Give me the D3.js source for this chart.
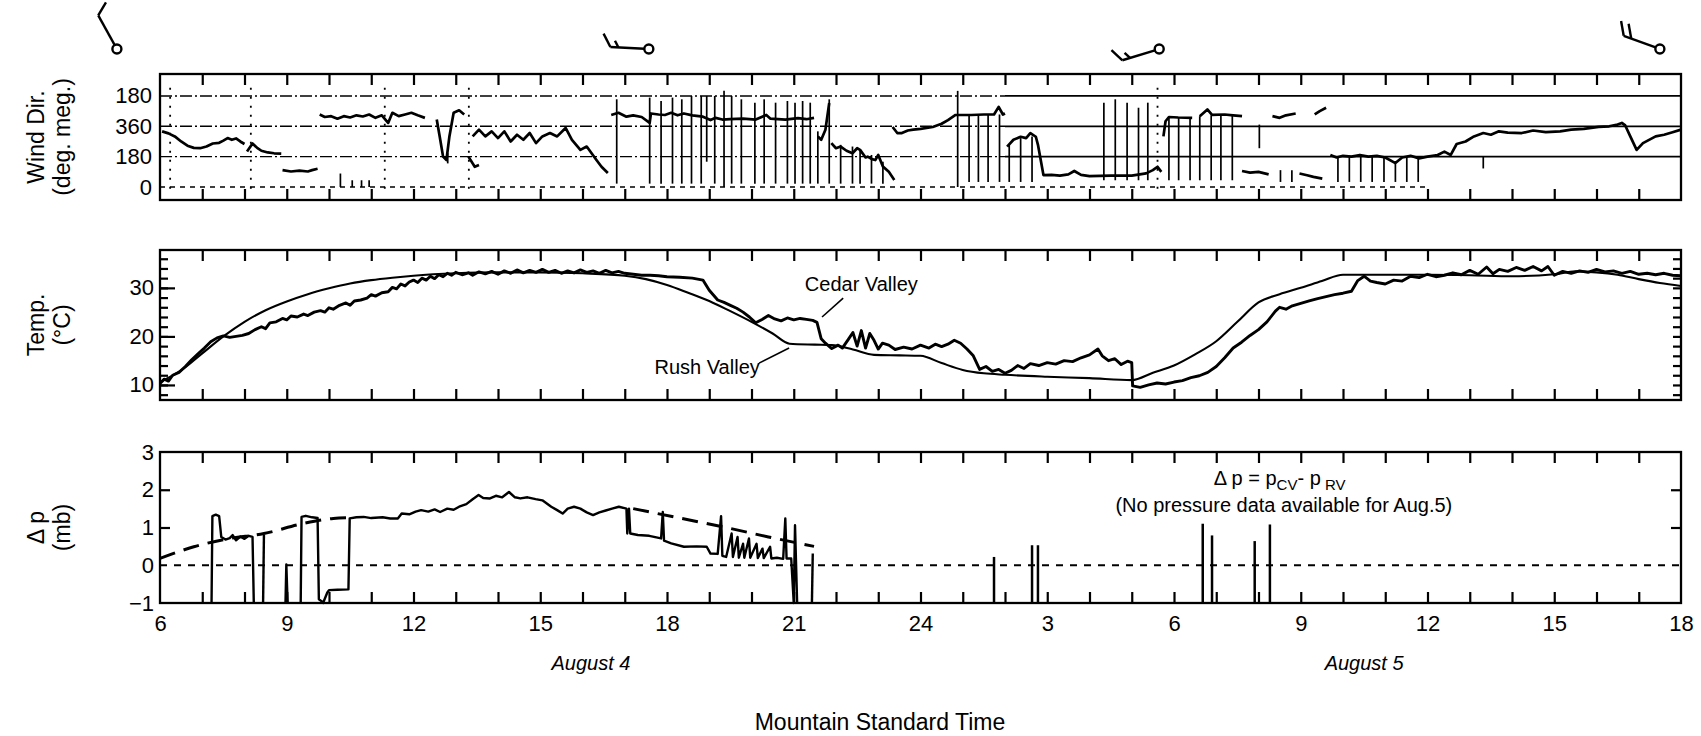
<!DOCTYPE html>
<html>
<head>
<meta charset="utf-8">
<script src="https://cdn.jsdelivr.net/npm/d3@7"></script>
<style>
  body { margin: 0; background: #fff; }
  svg { display: block; }
  .frame { fill: none; stroke: #000; stroke-width: 2.3; }
  .hticks line, .yticks line { stroke: #000; stroke-width: 2.2; }
  .ylab text { font-family: "Liberation Sans", Arial, sans-serif; font-size: 22px; fill: #000; }
  .xlab text { font-family: "Liberation Sans Narrow", "Arial Narrow", sans-serif; font-size: 22px; fill: #000; }
  .title { font-family: "Liberation Sans", Arial, sans-serif; font-size: 23px; fill: #000; }
  .note { font-family: "Liberation Sans Narrow", "Arial Narrow", sans-serif; font-size: 20px; fill: #000; }
</style>
</head>
<body>
<svg id="chart" width="1701" height="736"></svg>
<script>
// ---- data ----
// hours counted from 0h Aug 4 (so 30 = 6h Aug 5)
var labelHours = [6, 9, 12, 15, 18, 21, 24, 27, 30, 33, 36, 39, 42];
var minorHours = d3.range(7, 42);

// wind direction, scale is unwrapped: 0..540 shown as 0,180,360,180
var windGrid = [0, 180, 360, 540];
var windGridLabels = ["0", "180", "360", "180"];

var windTrace = [
  [[6.05,330],[6.2,318],[6.35,300],[6.5,270],[6.65,245],[6.8,232],[6.95,230],[7.1,240],[7.25,258],[7.4,262],[7.5,275],[7.6,290],[7.7,280],[7.8,288],[7.9,270],[8.0,255]],
  [[8.06,210],[8.19,258],[8.3,232],[8.4,215],[8.55,205],[8.7,200],[8.87,198]],
  [[8.9,100],[9.1,92],[9.3,97],[9.5,92],[9.6,100],[9.73,108]],
  [[9.78,430],[9.9,415],[10.05,420],[10.2,405],[10.35,420],[10.5,412],[10.65,425],[10.8,418],[10.95,430],[11.1,410],[11.25,425],[11.4,380],[11.5,440],[11.65,420],[11.8,430],[11.95,440],[12.1,425],[12.27,410]],
  [[12.55,400],[12.62,300],[12.7,180],[12.78,160],[12.85,300],[12.95,440],[13.08,455],[13.2,430]],
  [[13.3,180],[13.45,120],[13.55,130]],
  [[13.4,300],[13.55,340],[13.7,300],[13.85,330],[14.0,290],[14.15,330],[14.3,270],[14.45,310],[14.6,280],[14.75,320],[14.9,260],[15.05,300],[15.23,320],[15.4,300],[15.6,350],[15.75,280],[15.95,220],[16.1,240],[16.33,160],[16.45,120],[16.6,83]],
  [[16.68,427],[16.85,440],[17.04,417],[17.2,425],[17.4,415],[17.59,380],[17.62,436],[17.8,430],[17.95,427],[18.1,440],[18.25,425],[18.4,436],[18.6,425],[18.85,417],[19.03,397],[19.15,410],[19.31,400],[19.49,403],[19.8,405],[20.1,400],[20.35,427],[20.45,405],[20.8,400],[21.1,408],[21.3,402],[21.48,410]],
  [[21.57,300],[21.65,280],[21.75,340],[21.84,498]],
  [[21.89,260],[22.0,230],[22.11,240],[22.25,215],[22.39,200],[22.5,230],[22.57,220],[22.7,175],[22.75,180],[22.85,165],[22.93,160],[23.0,190],[23.11,122],[23.25,90],[23.38,42]],
  [[23.34,356],[23.45,320],[23.56,320],[23.7,335],[23.83,340],[24.0,345],[24.29,356],[24.5,375],[24.65,397],[24.83,427],[25.2,427],[25.5,430],[25.74,430],[25.85,475],[25.95,430],[26.0,436]],
  [[26.05,239],[26.2,280],[26.37,298],[26.5,290],[26.6,320],[26.73,298],[26.78,250],[26.91,71],[27.1,72],[27.3,68],[27.5,75],[27.64,95],[27.8,72],[28.0,65],[28.5,68],[29.0,68],[29.34,81],[29.5,100],[29.61,120],[29.7,90]],
  [[29.75,300],[29.8,390],[29.88,415],[30.1,412],[30.43,410]],
  [[30.61,420],[30.79,460],[30.9,428],[31.2,430],[31.4,425],[31.61,420]],
  [[31.61,95],[31.8,85],[32.0,90],[32.24,75]],
  [[32.33,420],[32.5,410],[32.65,425],[32.88,436]],
  [[32.97,80],[33.15,70],[33.3,60],[33.51,50]],
  [[33.33,430],[33.45,450],[33.6,470]],
  [[33.7,190],[33.85,175],[34.0,185],[34.2,180],[34.4,190],[34.6,180],[34.8,185],[35.0,175],[35.24,142],[35.4,175],[35.6,185],[35.8,170],[36.0,180],[36.24,190],[36.4,210],[36.55,190],[36.69,255],[36.9,270],[37.1,300],[37.32,320],[37.5,310],[37.69,330],[37.9,322],[38.23,320],[38.5,335],[38.8,325],[39.14,330],[39.4,340],[39.7,345],[40.05,356],[40.3,360],[40.5,370],[40.6,380],[40.68,365],[40.8,300],[40.95,220],[41.1,260],[41.4,300],[41.6,310],[41.8,325],[42.0,340]]
];

// vertical streaks of the recorder: [hour, low deg, high deg]
var windSpikes = [
  [10.27,0,80],[10.55,0,40],[10.77,0,40],[10.95,0,40],[12.81,140,200],
  [16.81,20,520],[17.59,20,530],[17.86,20,510],[18.13,20,530],[18.35,20,520],[18.58,20,540],[18.81,20,540],[18.94,150,540],
  [19.13,20,540],[19.35,0,570],[19.53,20,540],[19.76,20,520],[20.08,20,500],[20.3,20,520],[20.57,20,500],[20.85,20,510],
  [21.03,20,500],[21.21,20,510],[21.39,20,500],[21.57,20,330],[21.84,20,520],[22.11,20,250],[22.39,20,240],[22.57,20,220],
  [22.84,20,190],[23.11,20,150],[24.88,0,570],[25.15,30,430],[25.37,30,430],[25.6,30,430],[25.87,30,430],[26.1,30,250],
  [26.37,30,290],[26.64,30,300],[28.34,40,500],[28.61,40,520],[28.89,40,500],[29.16,40,470],[29.38,40,500],[29.88,40,410],
  [30.11,40,410],[30.38,40,410],[30.61,40,420],[30.88,40,425],[31.11,40,430],[31.38,40,425],[32.02,230,370],[32.52,30,100],
  [32.79,30,100],[33.88,30,180],[34.15,30,180],[34.42,30,180],[34.69,30,180],[34.97,30,180],[35.24,30,140],[35.51,30,180],
  [35.78,30,170],[37.32,110,180]
];
var windDotted = [6.24, 8.15, 11.32, 13.31, 29.61];

// wind barbs above the top panel: hour, direction (deg), speed (kt)
var barbs = [
  {hour: 4.98, dir: 331, speed: 10},
  {hour: 17.57, dir: 273, speed: 15},
  {hour: 29.65, dir: 253, speed: 15},
  {hour: 41.5, dir: 290, speed: 20}
];

// temperature (deg C)
var tempTicks = [10, 20, 30];
var tempMinor = d3.range(8, 38, 2);

var cedarValley = [
  [6.0,10.3],[6.1,11.2],[6.2,10.8],[6.3,12.0],[6.45,12.6],[6.6,13.8],[6.75,15.2],[6.9,16.4],[7.05,17.6],[7.2,18.9],
  [7.35,19.7],[7.5,20.1],[7.65,19.8],[7.8,20.0],[7.95,20.2],[8.1,20.6],[8.25,21.4],[8.4,22.0],[8.5,21.6],[8.6,22.8],
  [8.75,23.0],[8.9,23.7],[9.0,23.4],[9.1,24.2],[9.25,24.0],[9.4,24.6],[9.5,24.3],[9.65,25.0],[9.8,25.3],[9.9,25.0],
  [10.0,25.9],[10.1,25.6],[10.25,26.4],[10.4,26.9],[10.5,26.4],[10.6,27.3],[10.75,27.5],[10.9,27.9],[11.0,28.6],[11.1,28.3],
  [11.25,29.0],[11.4,29.2],[11.5,30.1],[11.6,29.8],[11.7,30.8],[11.8,30.4],[11.9,31.2],[12.0,31.6],[12.1,31.1],[12.2,32.0],
  [12.3,31.6],[12.4,32.4],[12.5,31.9],[12.6,32.7],[12.7,32.3],[12.8,33.0],[12.9,32.6],[13.0,33.2],[13.15,32.7],[13.3,33.1],
  [13.4,32.6],[13.55,33.3],[13.7,32.9],[13.85,33.4],[14.0,32.8],[14.15,33.5],[14.3,33.0],[14.45,33.7],[14.6,33.1],[14.75,33.6],
  [14.9,33.2],[15.05,33.8],[15.2,33.2],[15.35,33.6],[15.5,33.0],[15.65,33.5],[15.8,33.1],[15.95,33.7],[16.1,33.2],[16.25,33.5],
  [16.4,33.0],[16.55,33.6],[16.7,33.1],[16.85,33.4],[17.0,33.0],[17.2,32.8],[17.4,32.6],[17.6,32.6],[17.8,32.5],[18.0,32.3],
  [18.3,32.2],[18.6,32.0],[18.85,31.6],[19.0,29.5],[19.2,27.5],[19.35,27.0],[19.5,26.4],[19.65,25.8],[19.8,25.0],[19.95,24.0],
  [20.1,22.8],[20.25,23.5],[20.4,24.3],[20.55,23.6],[20.7,23.2],[20.85,23.8],[21.0,23.4],[21.15,23.7],[21.3,23.5],[21.45,23.3],
  [21.55,22.9],[21.65,19.5],[21.75,18.6],[21.9,17.5],[22.05,18.2],[22.15,17.6],[22.3,19.5],[22.4,20.8],[22.5,18.0],[22.6,21.2],
  [22.7,17.6],[22.8,20.6],[22.9,19.2],[23.0,17.4],[23.1,18.6],[23.25,18.2],[23.4,17.3],[23.6,17.8],[23.8,17.4],[24.0,18.2],
  [24.2,17.6],[24.35,18.4],[24.5,17.9],[24.65,18.4],[24.8,19.2],[24.95,18.6],[25.1,17.4],[25.25,16.0],[25.4,13.2],[25.55,13.8],
  [25.7,12.8],[25.85,13.2],[26.0,12.4],[26.15,13.0],[26.3,14.0],[26.45,13.4],[26.6,14.4],[26.8,14.0],[27.0,14.6],[27.2,14.3],
  [27.4,15.0],[27.6,14.8],[27.8,15.6],[28.0,16.2],[28.2,17.4],[28.3,16.0],[28.45,15.0],[28.6,15.4],[28.75,14.2],[28.9,14.9],
  [29.0,14.6],[29.02,9.8],[29.2,9.5],[29.4,10.0],[29.6,10.4],[29.8,10.2],[30.0,10.6],[30.2,10.9],[30.4,11.5],[30.6,11.9],
  [30.8,12.6],[31.0,13.8],[31.2,15.6],[31.4,17.6],[31.6,18.8],[31.8,20.2],[32.0,21.4],[32.2,23.0],[32.4,25.2],[32.5,26.0],
  [32.65,25.6],[32.8,26.3],[33.0,26.8],[33.2,27.3],[33.4,27.8],[33.6,28.2],[33.8,28.6],[34.0,28.9],[34.2,29.3],[34.35,31.5],
  [34.5,32.4],[34.65,31.4],[34.8,31.1],[35.0,30.8],[35.2,31.6],[35.4,31.4],[35.6,32.4],[35.8,32.1],[36.0,32.8],[36.2,32.3],
  [36.4,32.6],[36.6,33.1],[36.8,32.7],[37.0,33.6],[37.2,32.8],[37.4,34.3],[37.55,32.9],[37.7,33.8],[37.9,33.4],[38.1,34.2],
  [38.3,33.6],[38.5,34.4],[38.7,33.5],[38.85,34.4],[39.0,32.6],[39.2,33.4],[39.4,33.0],[39.6,33.5],[39.8,33.2],[40.0,33.8],
  [40.2,33.3],[40.4,33.5],[40.6,33.0],[40.8,33.4],[41.0,32.8],[41.2,33.0],[41.4,32.7],[41.6,33.0],[41.8,32.6],[42.0,32.5]
];

var rushValley = [
  [6.0,10.6],[6.5,13.0],[7.0,16.5],[7.5,20.0],[8.0,23.0],[8.5,25.4],[9.0,27.2],[9.5,28.7],[10.0,29.9],[10.5,30.9],
  [11.0,31.6],[11.5,32.1],[12.0,32.5],[13.0,33.0],[14.0,33.2],[15.0,33.2],[16.0,33.0],[17.0,32.5],[17.5,31.8],[18.0,30.6],
  [18.5,29.0],[19.0,27.3],[19.5,25.2],[20.0,23.0],[20.5,20.6],[20.9,18.5],[21.5,18.3],[21.9,18.2],[22.4,17.3],[22.9,16.2],
  [23.5,16.1],[24.0,16.0],[24.5,14.5],[25.0,13.1],[25.5,12.4],[26.0,12.1],[27.0,11.7],[28.0,11.4],[29.0,11.0],[29.5,12.5],
  [30.0,14.0],[30.5,16.3],[31.0,19.0],[31.5,23.0],[32.0,27.0],[32.5,28.7],[33.0,30.0],[33.5,31.4],[34.0,32.7],[35.0,32.7],
  [36.0,32.7],[37.0,32.6],[38.0,32.4],[39.0,32.8],[39.5,33.4],[40.0,33.2],[40.5,32.7],[41.0,31.8],[41.5,31.0],[42.0,30.4]
];

// pressure difference (mb)
var dpTicks = [-1, 0, 1, 2, 3];
var dpSolid = [
  [[7.22,-1],[7.24,1.3],[7.32,1.34],[7.4,1.3],[7.45,0.75],[7.55,0.68],[7.65,0.72],[7.72,0.8],[7.8,0.66],[7.9,0.76],[8.0,0.7],[8.1,0.78],[8.19,0.75],[8.22,-1]],
  [[8.44,-1],[8.46,0.8]],
  [[8.97,-1],[8.99,0.02],[9.02,-1]],
  [[9.33,-1],[9.35,1.28],[9.45,1.31],[9.6,1.27],[9.73,1.25],[9.76,-0.9],[9.82,-0.95],[9.86,-1],[9.96,-0.72],[10.0,-0.66],[10.2,-0.65],[10.46,-0.64],
   [10.49,1.24],[10.65,1.27],[10.82,1.28],[11.0,1.25],[11.27,1.27],[11.45,1.24],[11.63,1.24],[11.72,1.37],[11.9,1.35],[12.05,1.42],[12.18,1.46],
   [12.35,1.42],[12.5,1.48],[12.63,1.41],[12.8,1.5],[12.95,1.47],[13.08,1.55],[13.25,1.62],[13.4,1.75],[13.54,1.86],[13.65,1.78],[13.81,1.77],
   [13.95,1.84],[14.1,1.8],[14.26,1.94],[14.4,1.8],[14.53,1.77],[14.7,1.8],[14.89,1.75],[15.05,1.72],[15.26,1.55],[15.4,1.46],[15.53,1.37],
   [15.65,1.5],[15.8,1.55],[15.95,1.5],[16.1,1.4],[16.25,1.33],[16.4,1.4],[16.55,1.45],[16.7,1.5],[16.86,1.55],[17.04,1.5],[17.06,0.84],
   [17.1,1.5],[17.13,0.84],[17.31,0.8],[17.58,0.78],[17.86,0.71],[17.9,1.41],[17.93,0.65],[18.1,0.58],[18.4,0.49],[18.7,0.5],[18.94,0.49],
   [19.03,0.31],[19.2,0.3],[19.28,1.3],[19.31,0.25],[19.4,0.22],[19.53,0.84],[19.56,0.22],[19.67,0.75],[19.7,0.2],[19.8,0.57],[19.83,0.2],
   [19.94,0.71],[19.97,0.2],[20.12,0.57],[20.15,0.19],[20.26,0.44],[20.29,0.19],[20.44,0.49],[20.47,0.18],[20.6,0.2],[20.75,0.17],[20.8,1.24],
   [20.83,0.18],[20.94,0.18],[21.0,-1],[21.03,1.06],[21.08,-1]],
  [[21.43,-1],[21.45,0.31]]
];
var dpTrendAM = [[6.0,0.18],[6.8,0.49],[7.6,0.7],[8.46,0.84],[9.37,1.1],[10.1,1.24],[10.5,1.26]];
var dpTrendPM = [[17.2,1.5],[18.3,1.25],[19.4,1.0],[20.4,0.75],[21.48,0.5]];
// isolated spikes rising from the bottom: [hour, top]
var dpSpikes = [[25.74,0.22],[26.64,0.53],[26.78,0.53],[30.68,1.10],[30.9,0.79],[31.91,0.64],[32.27,1.08]];

// ---- layout ----
var X0 = 160, X1 = 1681;
var pWind = {top: 74, bottom: 200};
var pTemp = {top: 250, bottom: 400};
var pDp = {top: 452, bottom: 603};

var svg = d3.select("#chart");

var x = d3.scaleLinear().domain([6, 42]).range([X0, X1]);
var yWind = d3.scaleLinear().domain([-77, 670]).range([pWind.bottom, pWind.top]);
var yTemp = d3.scaleLinear().domain([6.9, 37.8]).range([pTemp.bottom, pTemp.top]);
var yDp = d3.scaleLinear().domain([-1, 3]).range([pDp.bottom, pDp.top]);

function noDomain(g) { g.select(".domain").remove(); }

//panel frame and hourly ticks top + bottom
function panelFrame(p) {
    svg.append("g").attr("class", "hticks")
        .attr("transform", "translate(0," + p.bottom + ")")
        .call(d3.axisTop(x).tickValues(minorHours).tickSize(11).tickFormat(""))
        .call(noDomain);
    svg.append("g").attr("class", "hticks")
        .attr("transform", "translate(0," + p.top + ")")
        .call(d3.axisBottom(x).tickValues(minorHours).tickSize(11).tickFormat(""))
        .call(noDomain);
    svg.append("rect").attr("class", "frame")
        .attr("x", X0).attr("y", p.top)
        .attr("width", X1 - X0).attr("height", p.bottom - p.top);
}

function yTitle(lines, p) {
    var cy = (p.top + p.bottom) / 2;
    lines.forEach(function(t, i) {
        svg.append("text").attr("class", "title")
            .attr("transform", "translate(" + (44 + i * 26) + "," + cy + ") rotate(-90)")
            .attr("text-anchor", "middle")
            .text(t);
    });
}

// ---- wind direction panel ----
windDotted.forEach(function(h) {
    svg.append("line")
        .attr("x1", x(h)).attr("x2", x(h))
        .attr("y1", yWind(-10)).attr("y2", yWind(600))
        .attr("stroke", "#000").attr("stroke-width", 1.8)
        .attr("stroke-dasharray", "2,7");
});

windGrid.forEach(function(d) {
    if (d === 0) {
        svg.append("line")
            .attr("x1", x(6)).attr("x2", x(36))
            .attr("y1", yWind(d)).attr("y2", yWind(d))
            .attr("stroke", "#000").attr("stroke-width", 1.3)
            .attr("stroke-dasharray", "5,5");
        return;
    }
    svg.append("line")
        .attr("x1", x(6)).attr("x2", x(26))
        .attr("y1", yWind(d)).attr("y2", yWind(d))
        .attr("stroke", "#000").attr("stroke-width", 1.4)
        .attr("stroke-dasharray", "12,3,2,3");
    svg.append("line")
        .attr("x1", x(26)).attr("x2", x(42))
        .attr("y1", yWind(d)).attr("y2", yWind(d))
        .attr("stroke", "#000").attr("stroke-width", 1.8);
});

svg.append("g").selectAll("line")
    .data(windSpikes)
    .enter().append("line")
    .attr("x1", function(d) { return x(d[0]); })
    .attr("x2", function(d) { return x(d[0]); })
    .attr("y1", function(d) { return yWind(d[1]); })
    .attr("y2", function(d) { return yWind(d[2]); })
    .attr("stroke", "#000").attr("stroke-width", 1.7);

var windLine = d3.line()
    .x(function(d) { return x(d[0]); })
    .y(function(d) { return yWind(d[1]); });

svg.append("g").selectAll("path")
    .data(windTrace)
    .enter().append("path")
    .attr("d", windLine)
    .attr("fill", "none").attr("stroke", "#000")
    .attr("stroke-width", 2.7).attr("stroke-linejoin", "round");

svg.append("g").attr("class", "ylab")
    .attr("transform", "translate(" + X0 + ",0)")
    .call(d3.axisLeft(yWind).tickValues(windGrid).tickSize(0).tickPadding(8)
        .tickFormat(function(d, i) { return windGridLabels[i]; }))
    .call(noDomain);

panelFrame(pWind);
yTitle(["Wind Dir.", "(deg. meg.)"], pWind);

// wind barbs
var barbY = 49, shaftLen = 34, barbLen = 15;
barbs.forEach(function(b) {
    var cx = x(b.hour);
    var a = b.dir * Math.PI / 180;
    var ux = Math.sin(a), uy = -Math.cos(a);
    // barb direction: shaft rotated 60deg clockwise
    var r = 60 * Math.PI / 180;
    var bx = ux * Math.cos(r) - uy * Math.sin(r);
    var by = ux * Math.sin(r) + uy * Math.cos(r);
    var ex = cx + ux * (4.5 + shaftLen), ey = barbY + uy * (4.5 + shaftLen);
    var g = svg.append("g").attr("stroke", "#000").attr("stroke-width", 2.4).attr("fill", "none");
    g.append("circle").attr("cx", cx).attr("cy", barbY).attr("r", 4.5).attr("fill", "#fff");
    g.append("line").attr("x1", cx + ux * 4.5).attr("y1", barbY + uy * 4.5).attr("x2", ex).attr("y2", ey);
    var full = Math.floor(b.speed / 10), half = (b.speed % 10) >= 5 ? 1 : 0;
    var k = 0, step = 8;
    for (var i = 0; i < full; i++, k++) {
        var sx = ex - ux * step * k, sy = ey - uy * step * k;
        g.append("line").attr("x1", sx).attr("y1", sy)
            .attr("x2", sx + bx * barbLen).attr("y2", sy + by * barbLen);
    }
    for (var j = 0; j < half; j++, k++) {
        var hx = ex - ux * step * k, hy = ey - uy * step * k;
        g.append("line").attr("x1", hx).attr("y1", hy)
            .attr("x2", hx + bx * barbLen / 2).attr("y2", hy + by * barbLen / 2);
    }
});

// ---- temperature panel ----
var tLine = d3.line()
    .x(function(d) { return x(d[0]); })
    .y(function(d) { return yTemp(d[1]); });

svg.append("path").datum(rushValley)
    .attr("d", tLine.curve(d3.curveMonotoneX))
    .attr("fill", "none").attr("stroke", "#000").attr("stroke-width", 2.1);

svg.append("path").datum(cedarValley)
    .attr("d", tLine.curve(d3.curveLinear))
    .attr("fill", "none").attr("stroke", "#000").attr("stroke-width", 2.9)
    .attr("stroke-linejoin", "round");

svg.append("g").attr("class", "yticks")
    .attr("transform", "translate(" + X0 + ",0)")
    .call(d3.axisRight(yTemp).tickValues(tempMinor).tickSize(8).tickFormat(""))
    .call(noDomain);
svg.append("g").attr("class", "yticks")
    .attr("transform", "translate(" + X0 + ",0)")
    .call(d3.axisRight(yTemp).tickValues(tempTicks).tickSize(15).tickFormat(""))
    .call(noDomain);
svg.append("g").attr("class", "yticks")
    .attr("transform", "translate(" + X1 + ",0)")
    .call(d3.axisLeft(yTemp).tickValues(tempMinor).tickSize(8).tickFormat(""))
    .call(noDomain);
svg.append("g").attr("class", "ylab")
    .attr("transform", "translate(" + X0 + ",0)")
    .call(d3.axisLeft(yTemp).tickValues(tempTicks).tickSize(0).tickPadding(6))
    .call(noDomain);

panelFrame(pTemp);
yTitle(["Temp.", "(\u00B0C)"], pTemp);

// series labels with leader lines
svg.append("text").attr("class", "note")
    .attr("x", x(22.6)).attr("y", yTemp(30.7)).attr("dy", "0.35em")
    .attr("text-anchor", "middle").text("Cedar Valley");
svg.append("line")
    .attr("x1", x(22.17)).attr("y1", yTemp(27.9))
    .attr("x2", x(21.67)).attr("y2", yTemp(24.0))
    .attr("stroke", "#000").attr("stroke-width", 1.6);
svg.append("text").attr("class", "note")
    .attr("x", x(18.95)).attr("y", yTemp(13.7)).attr("dy", "0.35em")
    .attr("text-anchor", "middle").text("Rush Valley");
svg.append("line")
    .attr("x1", x(20.18)).attr("y1", yTemp(14.5))
    .attr("x2", x(20.89)).attr("y2", yTemp(17.6))
    .attr("stroke", "#000").attr("stroke-width", 1.6);

// ---- pressure difference panel ----
svg.append("line")
    .attr("x1", x(6)).attr("x2", x(42))
    .attr("y1", yDp(0)).attr("y2", yDp(0))
    .attr("stroke", "#000").attr("stroke-width", 2)
    .attr("stroke-dasharray", "7,7");

var dpLine = d3.line()
    .x(function(d) { return x(d[0]); })
    .y(function(d) { return yDp(d[1]); });

[dpTrendAM, dpTrendPM].forEach(function(tr) {
    svg.append("path").datum(tr)
        .attr("d", dpLine.curve(d3.curveMonotoneX))
        .attr("fill", "none").attr("stroke", "#000").attr("stroke-width", 3)
        .attr("stroke-dasharray", "16,9");
});

dpLine.curve(d3.curveLinear);
svg.append("g").selectAll("path")
    .data(dpSolid)
    .enter().append("path")
    .attr("d", dpLine)
    .attr("fill", "none").attr("stroke", "#000").attr("stroke-width", 2.4)
    .attr("stroke-linejoin", "round");

svg.append("g").selectAll("line")
    .data(dpSpikes)
    .enter().append("line")
    .attr("x1", function(d) { return x(d[0]); })
    .attr("x2", function(d) { return x(d[0]); })
    .attr("y1", yDp(-1))
    .attr("y2", function(d) { return yDp(d[1]); })
    .attr("stroke", "#000").attr("stroke-width", 2.5);

svg.append("g").attr("class", "yticks")
    .attr("transform", "translate(" + X0 + ",0)")
    .call(d3.axisRight(yDp).tickValues([1, 2]).tickSize(10).tickFormat(""))
    .call(noDomain);
svg.append("g").attr("class", "yticks")
    .attr("transform", "translate(" + X1 + ",0)")
    .call(d3.axisLeft(yDp).tickValues([1, 2]).tickSize(10).tickFormat(""))
    .call(noDomain);
svg.append("g").attr("class", "ylab")
    .attr("transform", "translate(" + X0 + ",0)")
    .call(d3.axisLeft(yDp).tickValues(dpTicks).tickSize(0).tickPadding(6)
        .tickFormat(d3.format("d")))
    .call(noDomain);

panelFrame(pDp);
yTitle(["\u0394 p", "(mb)"], pDp);

// formula note
var f = svg.append("text").attr("class", "note")
    .attr("x", x(32.5)).attr("y", yDp(2.12))
    .attr("text-anchor", "middle");
f.append("tspan").text("\u0394  p = p");
f.append("tspan").attr("font-size", "15px").attr("dy", 5).text("CV");
f.append("tspan").attr("dy", -5).text("- p");
f.append("tspan").attr("font-size", "15px").attr("dy", 5).text(" RV");
svg.append("text").attr("class", "note")
    .attr("x", x(32.6)).attr("y", yDp(1.42))
    .attr("text-anchor", "middle")
    .text("(No pressure data available for Aug.5)");

// ---- time axis ----
svg.append("g").attr("class", "xlab")
    .attr("transform", "translate(0," + pDp.bottom + ")")
    .call(d3.axisBottom(x).tickValues(labelHours).tickSize(0).tickPadding(12)
        .tickFormat(function(h) { return h <= 24 ? h : h - 24; }))
    .call(noDomain);

svg.append("text").attr("class", "note")
    .attr("x", x(16.2)).attr("y", 670)
    .attr("text-anchor", "middle").attr("font-style", "italic")
    .attr("font-size", "21px")
    .text("August 4");
svg.append("text").attr("class", "note")
    .attr("x", x(34.5)).attr("y", 670)
    .attr("text-anchor", "middle").attr("font-style", "italic")
    .attr("font-size", "21px")
    .text("August 5");

svg.append("text").attr("class", "title")
    .attr("x", 880).attr("y", 730)
    .attr("text-anchor", "middle")
    .attr("font-size", "24px")
    .text("Mountain Standard Time");
</script>
</body>
</html>
